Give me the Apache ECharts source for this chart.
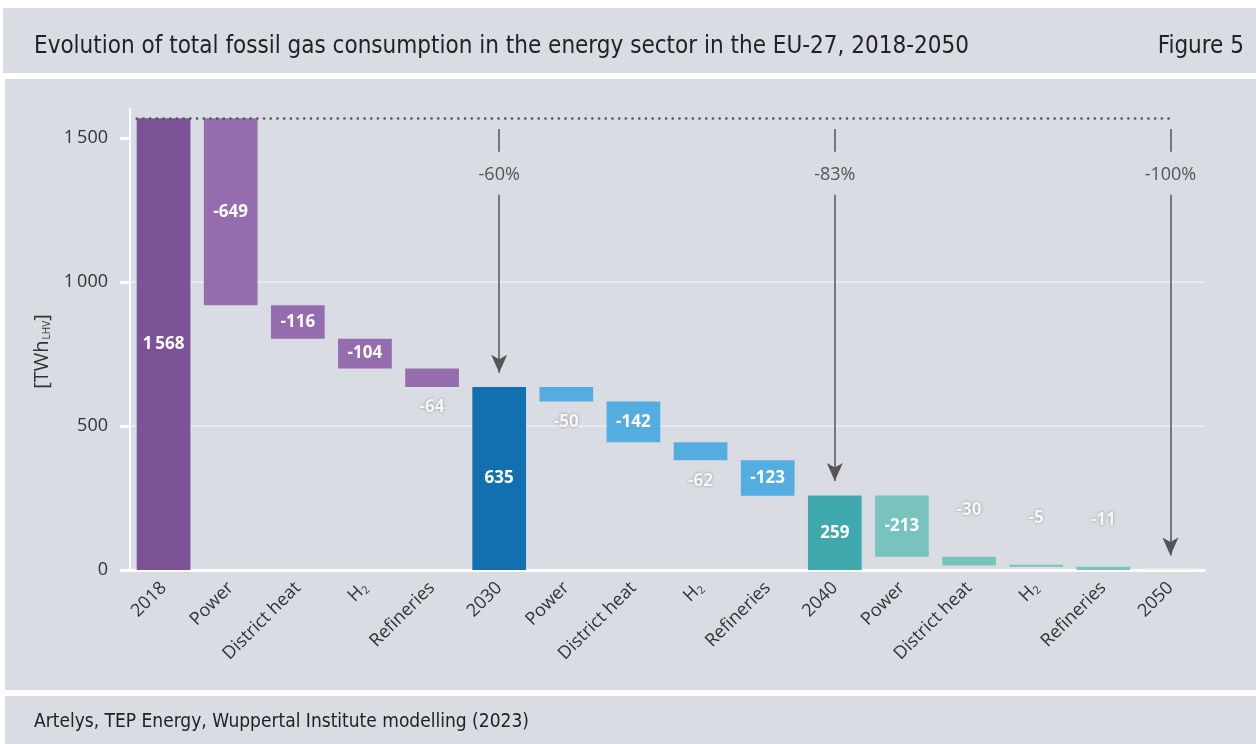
<!DOCTYPE html>
<html>
<head>
<meta charset="utf-8">
<script src="https://cdn.jsdelivr.net/npm/echarts@6/dist/echarts.min.js"></script>
<style>
  html, body { margin: 0; padding: 0; background: #fff; }
  #chart { width: 1256px; height: 744px; }
</style>
</head>
<body>
<div id="chart"></div>
<script>
// categories along the x axis
var categories = ['2018', 'Power', 'District heat', 'H2', 'Refineries',
  '2030', 'Power', 'District heat', 'H2', 'Refineries',
  '2040', 'Power', 'District heat', 'H2', 'Refineries', '2050'];
// totals for the year columns, changes for the others [TWh]
var values = [1568, -649, -116, -104, -64,
  635, -50, -142, -62, -123,
  259, -213, -30, -5, -11, 0];
// reduction compared with 2018
var reductionYears = ['2030', '2040', '2050'];
var reductions = [-60, -83, -100];
var yTicks = [0, 500, 1000, 1500];

var totalColors = ['#7b5396', '#126fb0', '#40a9ad', '#e4ecee'];
var deltaColors = ['#956cae', '#54ade0', '#78c3bd'];
var condensed = '"Liberation Sans Narrow", "DejaVu Sans Condensed", sans-serif';

function isYear (c) { return /^\d{4}$/.test(c) }
function fmt (v) {
  var s = String(Math.abs(v)).replace(/\B(?=(\d{3})+(?!\d))/g, '\u2009');
  return (v < 0 ? '-' : '') + s;
}

// build waterfall: invisible base + visible part
var baseData = [];
var barData = [];
var running = 0;
var block = -1;
categories.forEach(function (c, i) {
  var v = values[i];
  if (isYear(c)) {
    block++;
    running = v;
    baseData.push(0);
    barData.push({
      value: v,
      itemStyle: { color: totalColors[block] },
      label: { show: v > 0, position: 'inside' }
    });
  } else {
    var top = running;
    running = running + v;
    baseData.push(running);
    var small = Math.abs(v) < 100;
    var below = top > 200;
    barData.push({
      value: -v,
      itemStyle: { color: deltaColors[block] },
      label: small
        ? { position: below ? 'bottom' : 'top', distance: below ? 12 : 38,
            color: '#f7f7f7', textShadowColor: 'rgba(0,0,0,0.35)', textShadowBlur: 3 }
        : { position: 'inside' }
    });
  }
});

// arrows from the 2018 level down to later totals
function arrowLines () {
  var out = [];
  reductionYears.forEach(function (y, k) {
    var idx = categories.indexOf(y);
    var tot = values[idx];
    out.push([
      { coord: [idx, 1531], symbol: 'none' },
      { coord: [idx, 1452], symbol: 'none',
        label: { show: true, position: 'end', distance: 14, formatter: reductions[k] + '%',
          color: '#555', fontSize: 18, fontFamily: 'Open Sans' } }
    ]);
    out.push([
      { coord: [idx, 1302], symbol: 'none' },
      { coord: [idx, tot + 50], symbol: 'arrow', symbolSize: [12, 18], label: { show: false } }
    ]);
  });
  return out;
}

var chart = echarts.init(document.getElementById('chart'));
chart.setOption({
  animation: false,
  textStyle: { fontFamily: 'Open Sans' },
  graphic: [
    { type: 'rect', shape: { x: 3, y: 8, width: 1253, height: 65 }, style: { fill: '#d9dce3' }, z: -10 },
    { type: 'rect', shape: { x: 5, y: 79, width: 1251, height: 611 }, style: { fill: '#d9dce3' }, z: -10 },
    { type: 'rect', shape: { x: 5, y: 696, width: 1251, height: 48 }, style: { fill: '#d9dce3' }, z: -10 }
  ],
  title: [
    { text: 'Evolution of total fossil gas consumption in the energy sector in the EU-27, 2018-2050',
      left: 29, top: 30,
      textStyle: { fontFamily: condensed, fontSize: 24, fontWeight: 'normal', color: '#222' } },
    { text: 'Figure 5', right: 7, top: 30,
      textStyle: { fontFamily: condensed, fontSize: 24, fontWeight: 'normal', color: '#222' } },
    { text: 'Artelys, TEP Energy, Wuppertal Institute modelling (2023)',
      left: 29, top: 708,
      textStyle: { fontFamily: condensed, fontSize: 19, fontWeight: 'normal', color: '#222' } }
  ],
  grid: { left: 130, right: 52, top: 109, bottom: 174 },
  xAxis: {
    type: 'category',
    data: categories,
    axisLine: { lineStyle: { color: '#fff', width: 3 } },
    axisTick: { alignWithLabel: true, length: 8, lineStyle: { color: '#fff', width: 3 } },
    axisLabel: {
      rotate: 45, color: '#333', fontSize: 18, margin: 15, interval: 0,
      formatter: function (v) { return v === 'H2' ? '{a|H}{s|2}' : v },
      rich: { a: { fontSize: 18, color: '#333' }, s: { fontSize: 11, color: '#333', padding: [9, 0, 0, 0] } }
    }
  },
  yAxis: {
    type: 'value',
    min: 0, max: 1600, interval: 500,
    name: '{a|[TWh}{s|LHV}{a|]}',
    nameLocation: 'middle', nameGap: 78, nameRotate: 90,
    nameTextStyle: {
      padding: [0, 24, 0, 0],
      rich: { a: { fontSize: 20, color: '#333' }, s: { fontSize: 10, color: '#333', padding: [10, 0, 0, 1] } }
    },
    axisLine: { show: true, lineStyle: { color: '#fff', width: 2 } },
    axisTick: { show: true, length: 10, customValues: yTicks, lineStyle: { color: '#fff', width: 3 } },
    axisLabel: { color: '#333', fontSize: 18, margin: 22, customValues: yTicks,
      formatter: function (v) { return fmt(v) } },
    splitLine: { show: true, showMaxLine: false, lineStyle: { color: '#eaeaea', width: 2 } }
  },
  series: [
    {
      type: 'bar', stack: 'w', data: baseData, barWidth: '80%',
      itemStyle: { color: 'transparent' }, silent: true
    },
    {
      type: 'bar', stack: 'w', data: barData, barWidth: '80%', barMinHeight: 2,
      label: {
        show: true, color: '#fff', fontWeight: 'bold', fontSize: 17,
        formatter: function (p) { return fmt(values[p.dataIndex]) }
      },
      markLine: {
        silent: true,
        lineStyle: { color: '#555', width: 1.5, type: 'solid' },
        label: { show: false },
        data: arrowLines()
      }
    }
  ]
});

// dotted 2018 reference line: from left edge of the 2018 bar to the 2050 column
var p0 = chart.convertToPixel({ seriesIndex: 1 }, [0, values[0]]);
var p1 = chart.convertToPixel({ seriesIndex: 1 }, [categories.length - 1, values[0]]);
var halfBar = chart.getModel().getSeriesByIndex(1).getData().getLayout('size') / 2 || 27;
var lines = arrowLines();
lines.push([
  { x: p0[0] - Math.abs(halfBar), y: p0[1], symbol: 'none',
    lineStyle: { type: [0.1, 6.6], cap: 'round', width: 2.6, color: '#555' } },
  { x: p1[0], y: p1[1], symbol: 'none', label: { show: false } }
]);
chart.setOption({ series: [{}, { markLine: { data: lines } }] });
</script>
</body>
</html>
